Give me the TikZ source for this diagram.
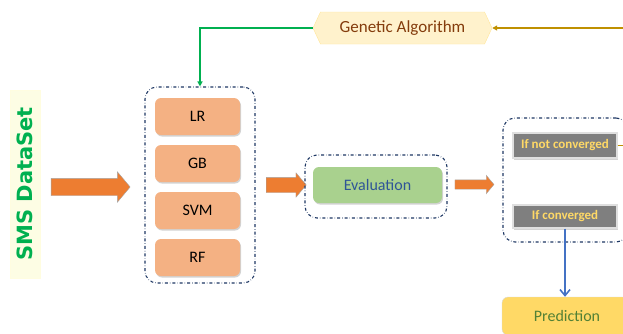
\documentclass[tikz,border=0pt]{standalone}
\usepackage{fontspec}
\setmainfont{Carlito}
\newfontfamily\datafont{DejaVu Sans}
\usepackage{tikz}
\usetikzlibrary{shapes.arrows, shapes.symbols, arrows.meta, shadows, positioning}

\definecolor{modelfill}{HTML}{F4B183}
\definecolor{arroworange}{HTML}{ED7D31}
\definecolor{evalfill}{HTML}{A9D18E}
\definecolor{evaltext}{HTML}{2F5597}
\definecolor{groupline}{HTML}{1F3864}
\definecolor{condfill}{HTML}{7F7F7F}
\definecolor{condtext}{HTML}{FFD966}
\definecolor{predfill}{HTML}{FFD966}
\definecolor{predtext}{HTML}{538135}
\definecolor{gafill}{HTML}{FFF2CC}
\definecolor{gadraw}{HTML}{FFE699}
\definecolor{gatext}{HTML}{843C0C}
\definecolor{fbgreen}{HTML}{00B050}
\definecolor{fbgold}{HTML}{BF9000}
\definecolor{predblue}{HTML}{4472C4}
\definecolor{datafill}{HTML}{FDFDE4}

\begin{document}
\begin{tikzpicture}[x=1pt, y=-1pt,
      % one unit is one pixel of the layout, y runs downwards
      softshadow/.style={drop shadow={opacity=0.35, shadow xshift=1pt,
      shadow yshift=-1.5pt}},
      model/.style={fill=modelfill, rounded corners=6pt, minimum width=85pt,
      minimum height=37pt, font=\fontsize{16}{18}\selectfont, softshadow},
      groupbox/.style={draw=groupline, dash dot, line width=1.1pt, rounded
      corners=12pt},
      flowarrow/.style={single arrow, draw=gray!70, fill=arroworange, inner
      sep=0pt, single arrow head indent=0pt, single arrow tip angle=100},
      condbox/.style={fill=condfill, draw=gray!25, line width=1.2pt,
      text=condtext, font=\bfseries\fontsize{13}{15}\selectfont, minimum
      width=104pt, softshadow},
      feedback/.style={line width=1.4pt, -{Triangle[length=5pt, width=5pt]}} ]

    \useasboundingbox (0,0) rectangle (623,333);
    \clip (0,0) rectangle (623,333);

    % Dataset label
    \node[rotate=90, fill=datafill, draw=yellow!12, minimum width=188pt,
    minimum height=30pt, text=fbgreen, font=\datafont\bfseries\fontsize{21}{24}\selectfont]
    (data) at (25,184) {SMS DataSet};

    % Input arrow
    \node[flowarrow, minimum height=79pt, inner ysep=8.5pt, single arrow
    head extend=6.5pt] (in) at (87,187) {};

    % Models
    \node[groupbox, minimum width=110pt, minimum height=196pt] (models) at
    (200,185) {};
    \node[model] (lr) at (197.5,116.5) {LR}; \node[model] (gb) at
    (197.5,163.5) {GB}; \node[model] (svm) at (197.5,210.5) {SVM};
    \node[model] (rf) at (197.5,257.5) {RF};

    % Evaluation
    \node[flowarrow, minimum height=40pt, inner ysep=7.5pt, single arrow
    head extend=4.5pt] (toeval) at (283,185) {};
    \node[groupbox, minimum width=142pt, minimum height=63pt] (evalgroup) at
    (376,186.5) {};
    \node[fill=evalfill, rounded corners=6pt, minimum width=129pt, minimum
    height=36pt, text=evaltext, font=\fontsize{16}{18}\selectfont, softshadow]
    (eval) at (377.5,185) {Evaluation};
    \node[flowarrow, minimum height=39pt, inner ysep=4.5pt, single arrow
    head extend=4.5pt] (tocond) at (472.5,184.5) {};

    % Convergence check
    \node[groupbox, minimum width=125pt, minimum height=124pt] (condgroup) at
    (565.5,180) {};
    \node[condbox, minimum height=25pt] (notconv) at (565,145.5) {If not
    converged}; \node[condbox, minimum height=23pt] (conv) at (565,216.5) {If
    converged};

    % Prediction
    \node[fill=predfill, draw=gray!30, rounded corners=6pt, minimum
    width=130pt, minimum height=38pt, text=predtext,
    font=\fontsize{16}{18}\selectfont, softshadow] (pred) at (567,316)
    {Prediction};

    % Genetic algorithm
    \node[signal, signal to=west and east, signal pointer angle=130,
    fill=gafill, draw=gadraw, minimum width=179pt, minimum height=32pt,
    text=gatext, font=\fontsize{17}{19}\selectfont] (ga) at (402.5,28)
    {Genetic Algorithm};

    % Feedback loop
    \coordinate (turn) at (634,87);
    \draw[feedback, fbgold] (notconv.east) -| (turn) |- (ga.east);
    \draw[feedback, fbgreen] (ga.west) -| (models.north);

    % Final prediction arrow
    \draw[line width=1.6pt, predblue, -{Straight Barb[length=6pt, width=10pt]}]
    (conv.south) -- (conv.south |- pred.north);

\end{tikzpicture}
\end{document}
